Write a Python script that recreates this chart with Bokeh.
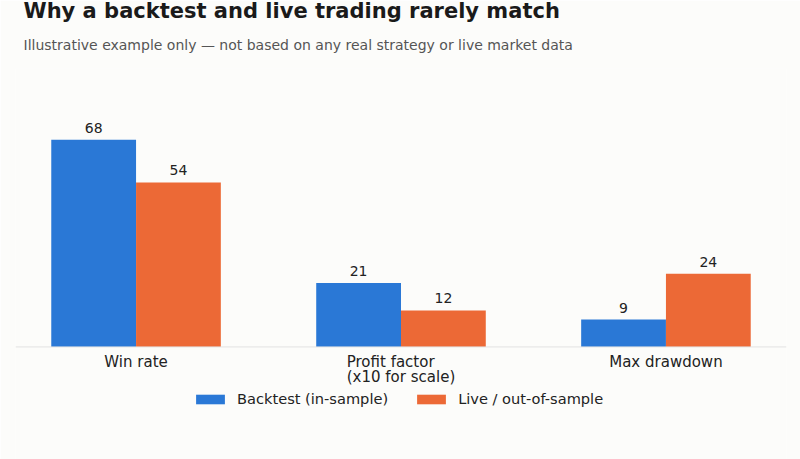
from bokeh.plotting import figure
from bokeh.models import ColumnDataSource, Range1d, Legend, LegendItem, Title, Span, LabelSet
from bokeh.core.properties import value
from bokeh.embed import file_html
from bokeh.resources import INLINE

categories = ["Win rate", "Profit factor\n(x10 for scale)", "Max drawdown"]
backtest = [68, 21, 9]
live = [54, 12, 24]
series_names = ["Backtest (in-sample)", "Live / out-of-sample"]
colors = ["#2a78d6", "#ec6936"]

FONT = "DejaVu Sans"
BG = "#fcfcfa"

xs = list(range(len(categories)))
bw = 0.32
src_b = ColumnDataSource(dict(x=[i - bw / 2 for i in xs], top=backtest, lbl=[str(v) for v in backtest]))
src_l = ColumnDataSource(dict(x=[i + bw / 2 for i in xs], top=live, lbl=[str(v) for v in live]))
src_c = ColumnDataSource(dict(x=xs, y=[0] * len(xs), lbl=categories))

p = figure(width=800, height=459, output_backend="svg", toolbar_location=None,
           x_range=Range1d(-0.455, 2.455), y_range=Range1d(-36.96, 91.42),
           min_border_left=15, min_border_right=14, min_border_top=0, min_border_bottom=0,
           background_fill_color=BG, border_fill_color=BG, outline_line_color=None)
p.title.visible = False

sub = Title(text="Illustrative example only \u2014 not based on any real strategy or live market data",
            text_font=FONT, text_font_size="14px", text_font_style="normal", text_color="#555555",
            offset=8, standoff=32)
p.add_layout(sub, "above")
main = Title(text="Why a backtest and live trading rarely match",
             text_font=FONT, text_font_size="21px", text_font_style="bold", text_color="#1a1a1a",
             offset=8, standoff=-8)
p.add_layout(main, "above")

p.xaxis.visible = False
p.yaxis.visible = False
p.xgrid.visible = False
p.ygrid.visible = False

p.add_layout(Span(location=0, dimension="width", line_color="#e2e2e2", line_width=1))

rb = p.vbar(x="x", top="top", width=bw, bottom=0, source=src_b, fill_color=colors[0], line_color=None)
rl = p.vbar(x="x", top="top", width=bw, bottom=0, source=src_l, fill_color=colors[1], line_color=None)

for s in (src_b, src_l):
    p.add_layout(LabelSet(x="x", y="top", text="lbl", source=s, y_offset=7, text_align="center",
                          text_baseline="alphabetic", text_font=value(FONT),
                          text_font_size=value("14px"), text_color="#222222"))

p.add_layout(LabelSet(x="x", y="y", text="lbl", source=src_c, y_offset=-6, text_align="center",
                      text_baseline="top", text_font=value(FONT), text_font_size=value("15px"),
                      text_color="#222222", text_line_height=0.85))

legend = Legend(items=[LegendItem(label=series_names[0], renderers=[rb]),
                       LegendItem(label=series_names[1], renderers=[rl])],
                orientation="horizontal", location=(177, 52),
                glyph_width=36, glyph_height=12, label_standoff=9, spacing=25,
                label_text_font=FONT, label_text_font_size="14.6px", label_text_color="#222222",
                background_fill_alpha=0, border_line_color=None, margin=0, padding=0)
p.add_layout(legend, "center")

open("out.html", "w").write(file_html(p, INLINE))
